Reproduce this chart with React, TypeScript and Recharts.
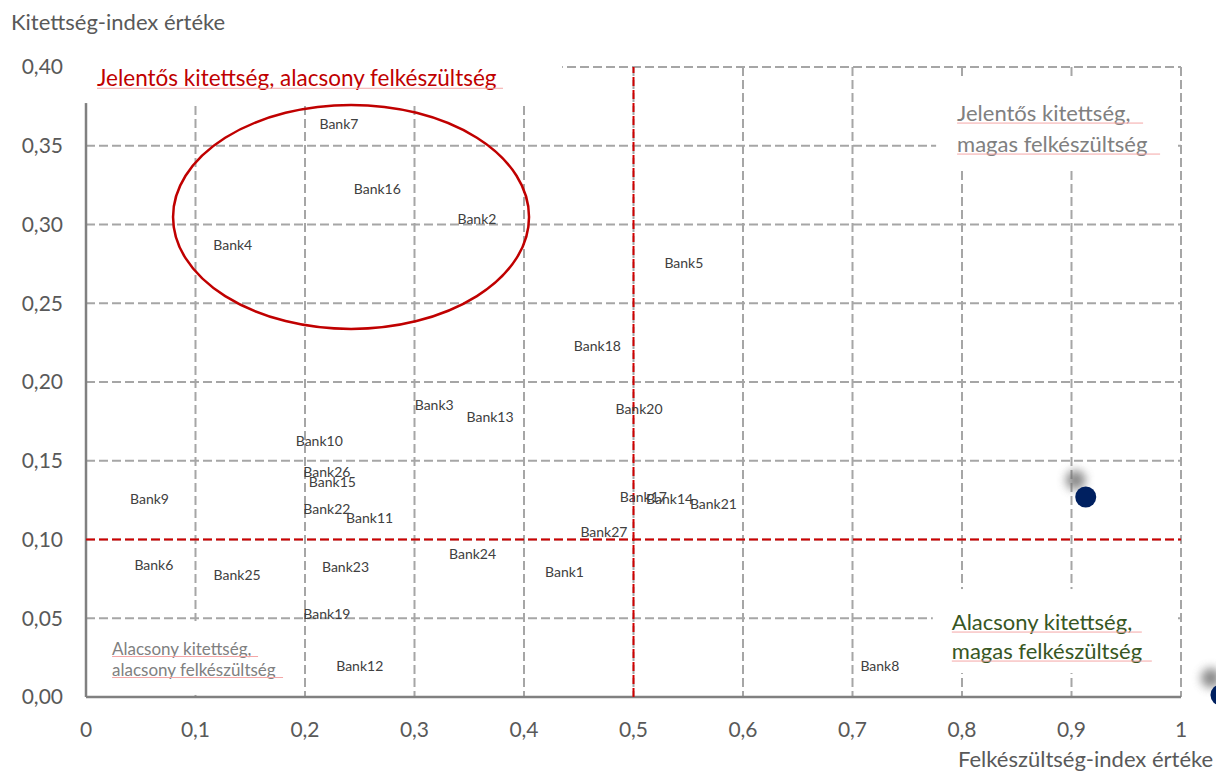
import React from 'react';
import {
  ScatterChart,
  Scatter,
  XAxis,
  YAxis,
  CartesianGrid,
  ReferenceLine,
  ReferenceArea,
} from 'recharts';

// ---- data ----
const bankNames = [
  'Bank1', 'Bank2', 'Bank3', 'Bank4', 'Bank5', 'Bank6', 'Bank7', 'Bank8', 'Bank9',
  'Bank10', 'Bank11', 'Bank12', 'Bank13', 'Bank14', 'Bank15', 'Bank16', 'Bank17', 'Bank18',
  'Bank19', 'Bank20', 'Bank21', 'Bank22', 'Bank23', 'Bank24', 'Bank25', 'Bank26', 'Bank27',
];
const readinessIndex = [
  0.437, 0.357, 0.318, 0.134, 0.546, 0.062, 0.231, 0.725, 0.058,
  0.213, 0.259, 0.25, 0.369, 0.533, 0.225, 0.266, 0.509, 0.467,
  0.22, 0.505, 0.573, 0.22, 0.237, 0.353, 0.138, 0.22, 0.473,
];
const exposureIndex = [
  0.08, 0.304, 0.186, 0.287, 0.276, 0.084, 0.364, 0.02, 0.126,
  0.163, 0.114, 0.02, 0.178, 0.126, 0.137, 0.323, 0.127, 0.223,
  0.053, 0.183, 0.123, 0.12, 0.083, 0.091, 0.078, 0.143, 0.105,
];
const highlightReadiness = [0.913, 1.0365];
const highlightExposure = [0.127, 0.0013];

const xTicks = [0, 0.1, 0.2, 0.3, 0.4, 0.5, 0.6, 0.7, 0.8, 0.9, 1];
const yTicks = [0, 0.05, 0.1, 0.15, 0.2, 0.25, 0.3, 0.35, 0.4];
const horizontalGrid = [0.05, 0.1, 0.15, 0.2, 0.25, 0.3, 0.35, 0.4];
const exposureThreshold = 0.1;
const readinessThreshold = 0.5;

const bankPoints = bankNames.map((name, i) => ({
  name,
  x: readinessIndex[i],
  y: exposureIndex[i],
}));
const highlightPoints = highlightReadiness.map((x, i) => ({ x, y: highlightExposure[i] }));

// ---- annotation boxes ----
type BoxCfg = {
  x1: number; x2: number; y1: number; y2: number;
  lines: string[]; underline: number[];
  color: string; size: number; dx: number; dy: number; lh: number;
};
const quadrantBoxes: BoxCfg[] = [
  {
    x1: 0, x2: 0.433, y1: 0.379, y2: 0.4,
    lines: ['Jelentős kitettség, alacsony felkészültség'], underline: [406],
    color: '#C00000', size: 22.5, dx: 11, dy: 10, lh: 0,
  },
  {
    x1: 0.78, x2: 0.9945, y1: 0.3378, y2: 0.3898,
    lines: ['Jelentős kitettség,', 'magas felkészültség'], underline: [186, 203],
    color: '#808080', size: 22, dx: 17, dy: 29, lh: 31,
  },
  {
    x1: 0.777, x2: 0.9945, y1: 0.0171, y2: 0.066,
    lines: ['Alacsony kitettség,', 'magas felkészültség'], underline: [190, 200],
    color: '#375623', size: 22, dx: 15, dy: 28, lh: 29,
  },
  {
    x1: 0.0174, x2: 0.186, y1: 0.0032, y2: 0.0457,
    lines: ['Alacsony kitettség,', 'alacsony felkészültség'], underline: [146, 171],
    color: '#808080', size: 17, dx: 7, dy: 23, lh: 21,
  },
];

const FONT = 'Lato, "Open Sans", sans-serif';

const makeBoxShape = (cfg: BoxCfg) => (props: any) => {
  const { x, y, width, height } = props;
  return (
    <g>
      <rect x={x - 4} y={y - 4} width={width + 6} height={height + 7} fill="#ffffff" />
      {cfg.lines.map((line, i) => {
        const ty = y + cfg.dy + i * cfg.lh;
        return (
          <g key={i}>
            <text
              x={x + cfg.dx}
              y={ty}
              dominantBaseline="central"
              fontSize={cfg.size}
              fontFamily={FONT}
              fill={cfg.color}
            >
              {line}
            </text>
            <line
              x1={x + cfg.dx}
              x2={x + cfg.dx + cfg.underline[i]}
              y1={ty + cfg.size * 0.5}
              y2={ty + cfg.size * 0.5}
              stroke="#F4A6A6"
              strokeWidth={1}
            />
          </g>
        );
      })}
    </g>
  );
};

const EllipseShape = (props: any) => {
  const { x, y, width, height } = props;
  return (
    <ellipse
      cx={x + width / 2}
      cy={y + height / 2}
      rx={width / 2}
      ry={height / 2}
      fill="none"
      stroke="#C00000"
      strokeWidth={2.5}
    />
  );
};

const BankLabel = (props: any) => {
  const { cx, cy, payload } = props;
  return (
    <text
      x={cx}
      y={cy}
      textAnchor="middle"
      dominantBaseline="central"
      fontSize={14}
      fontFamily={FONT}
      fill="#404040"
    >
      {payload.name}
    </text>
  );
};

const HighlightDot = (props: any) => {
  const { cx, cy } = props;
  return (
    <g>
      <defs>
        <filter id="dotShadow" x="-150%" y="-150%" width="400%" height="400%">
          <feGaussianBlur stdDeviation="5" />
        </filter>
      </defs>
      <circle cx={cx - 10} cy={cy - 17} r={10} fill="#6e6e6e" opacity={0.8} filter="url(#dotShadow)" />
      <circle cx={cx} cy={cy} r={10.5} fill="#002060" />
    </g>
  );
};

const fmtX = (v: number) => (v === 0 ? '0' : v === 1 ? '1' : String(v).replace('.', ','));
const fmtY = (v: number) => v.toFixed(2).replace('.', ',');

const tickStyle = { fill: '#595959', fontSize: 21, fontFamily: FONT };
const gridStroke = '#A6A6A6';
const gridDash = '9 4';

export default function App() {
  return (
    <div
      style={{
        position: 'absolute',
        left: 0,
        top: 0,
        width: 1216,
        height: 774,
        overflow: 'hidden',
        background: '#ffffff',
      }}
    >
      <div
        style={{
          position: 'absolute',
          left: 11,
          top: 9,
          fontFamily: FONT,
          fontSize: 22,
          lineHeight: 1.2,
          color: '#595959',
          whiteSpace: 'nowrap',
        }}
      >
        Kitettség-index értéke
      </div>
      <div
        style={{
          position: 'absolute',
          left: 958,
          top: 746,
          fontFamily: FONT,
          fontSize: 22,
          lineHeight: 1.2,
          color: '#595959',
          whiteSpace: 'nowrap',
        }}
      >
        Felkészültség-index értéke
      </div>
      <ScatterChart
        width={1250}
        height={774}
        margin={{ top: 67, right: 14.25, bottom: 37, left: 0 }}
        style={{ position: 'absolute', left: 0, top: 0 }}
      >
        <CartesianGrid
          horizontal={false}
          vertical={true}
          stroke={gridStroke}
          strokeWidth={2}
          strokeDasharray={gridDash}
        />
        <XAxis
          type="number"
          dataKey="x"
          domain={[0, 1.05]}
          ticks={xTicks}
          tickFormatter={fmtX}
          axisLine={false}
          tickLine={false}
          tickSize={0}
          tickMargin={25}
          height={40}
          tick={tickStyle}
          interval={0}
        />
        <YAxis
          type="number"
          dataKey="y"
          domain={[0, 0.4]}
          ticks={yTicks}
          tickFormatter={fmtY}
          axisLine={false}
          tickLine={false}
          tickSize={0}
          tickMargin={23}
          width={86}
          tick={tickStyle}
          interval={0}
        />
        {horizontalGrid.map((v) => (
          <ReferenceLine
            key={`h${v}`}
            segment={[{ x: 0, y: v }, { x: 1, y: v }]}
            stroke={gridStroke}
            strokeWidth={2}
            strokeDasharray={gridDash}
            zIndex={-90}
          />
        ))}
        <ReferenceLine
          segment={[{ x: 0, y: 0 }, { x: 0, y: 0.4 }]}
          stroke="#808080"
          strokeWidth={2.5}
          zIndex={-85}
        />
        <ReferenceLine
          segment={[{ x: 0, y: 0 }, { x: 1, y: 0 }]}
          stroke="#808080"
          strokeWidth={2.5}
          zIndex={-85}
        />
        {quadrantBoxes.map((b, i) => (
          <ReferenceArea
            key={`box${i}`}
            x1={b.x1}
            x2={b.x2}
            y1={b.y1}
            y2={b.y2}
            shape={makeBoxShape(b)}
            zIndex={-80}
          />
        ))}
        <ReferenceLine
          segment={[{ x: readinessThreshold, y: 0 }, { x: readinessThreshold, y: 0.4 }]}
          stroke="#D00000"
          strokeWidth={2}
          strokeDasharray="9 4"
          zIndex={-70}
        />
        <ReferenceLine
          segment={[{ x: 0, y: exposureThreshold }, { x: 1, y: exposureThreshold }]}
          stroke="#D00000"
          strokeWidth={2}
          strokeDasharray="9 4"
          zIndex={-70}
        />
        <ReferenceArea
          x1={0.0795}
          x2={0.4046}
          y1={0.2337}
          y2={0.3759}
          shape={EllipseShape}
          zIndex={-70}
        />
        <Scatter data={bankPoints} shape={BankLabel} isAnimationActive={false} />
        <Scatter data={highlightPoints} shape={HighlightDot} isAnimationActive={false} />
      </ScatterChart>
    </div>
  );
}
